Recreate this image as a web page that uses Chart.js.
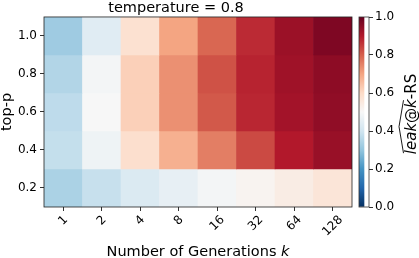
<!DOCTYPE html>
<html>
<head>
<meta charset="utf-8">
<script src="https://cdn.jsdelivr.net/npm/chart.js@4/dist/chart.umd.min.js"></script>
<style>
  html, body { margin: 0; padding: 0; background: #fff; }
  #wrap { position: relative; width: 419px; height: 258px; }
  #main { position: absolute; left: 0; top: 0; }
  #cbar { position: absolute; left: 352px; top: 0; }
</style>
</head>
<body>
<div id="wrap">
  <canvas id="main" width="419" height="258"></canvas>
  <canvas id="cbar" width="67" height="258"></canvas>
</div>
<script>
// ---- data ----
const xLabels = ['1', '2', '4', '8', '16', '32', '64', '128'];
const topP = [1.0, 0.8, 0.6, 0.4, 0.2];
const row_p10 = [0.32, 0.44, 0.58, 0.70, 0.79, 0.875, 0.93, 0.97];
const row_p08 = [0.35, 0.49, 0.62, 0.73, 0.82, 0.885, 0.925, 0.95];
const row_p06 = [0.37, 0.50, 0.62, 0.73, 0.81, 0.88, 0.92, 0.945];
const row_p04 = [0.38, 0.475, 0.585, 0.68, 0.757, 0.83, 0.90, 0.935];
const row_p02 = [0.34, 0.384, 0.426, 0.458, 0.49, 0.514, 0.539, 0.564];
const yTicks = [0.2, 0.4, 0.6, 0.8, 1.0];
const cbTicks = [0.0, 0.2, 0.4, 0.6, 0.8, 1.0];
const title = 'temperature = 0.8';
const xTitle = 'Number of Generations ';
const xTitleVar = 'k';
const yTitle = 'top-p';

// ---- RdBu_r colormap ----
const rdbuR = [
  [5,48,97],[33,102,172],[67,147,195],[146,197,222],[209,229,240],
  [247,247,247],[253,219,199],[244,165,130],[214,96,77],[178,24,43],[103,0,31]
];
function cmap(v) {
  v = Math.max(0, Math.min(1, v));
  const t = v * 10;
  const i = Math.min(9, Math.floor(t));
  const f = t - i;
  const a = rdbuR[i], b = rdbuR[i + 1];
  const c = a.map((x, k) => Math.round(x + (b[k] - x) * f));
  return `rgb(${c[0]},${c[1]},${c[2]})`;
}

Chart.defaults.font.family = "'DejaVu Sans', sans-serif";
Chart.defaults.color = '#000';
Chart.defaults.animation = false;

const rows = [row_p10, row_p08, row_p06, row_p04, row_p02];
const halfStep = 0.1;
const datasets = rows.map((vals, r) => ({
  label: 'top-p ' + topP[r].toFixed(1),
  data: vals.map(() => [topP[r] - halfStep, topP[r] + halfStep]),
  backgroundColor: vals.map(cmap),
  borderWidth: 0,
  barPercentage: 1,
  categoryPercentage: 1,
  grouped: false
}));

const tickColor = '#333';
const labelSize = 14.5;

const mainPlugin = {
  id: 'mainDecor',
  afterDatasetsDraw(chart) {
    const { ctx, chartArea: a } = chart;
    ctx.save();
    ctx.strokeStyle = '#222';
    ctx.lineWidth = 0.8;
    ctx.strokeRect(a.left, a.top, a.right - a.left, a.bottom - a.top);
    ctx.restore();
  },
  afterDraw(chart) {
    const { ctx, chartArea: a } = chart;
    const xs = chart.scales.x;
    ctx.save();
    ctx.fillStyle = '#000';
    // rotated x tick labels, centered under ticks (matplotlib style)
    ctx.font = "12px 'DejaVu Sans'";
    const h = 14;
    const y0 = a.bottom + 6;
    xLabels.forEach((lab, i) => {
      const x = xs.getPixelForTick(i);
      const w = ctx.measureText(lab).width;
      const cy = y0 + (w + h) * Math.SQRT1_2 / 2;
      ctx.save();
      ctx.translate(x, cy);
      ctx.rotate(-Math.PI / 4);
      ctx.textAlign = 'center';
      ctx.textBaseline = 'middle';
      ctx.fillText(lab, 0, 0);
      ctx.restore();
    });
    // x title with italic k
    const fN = `${labelSize}px 'DejaVu Sans'`, fI = `italic ${labelSize}px 'DejaVu Sans'`;
    ctx.font = fN; const w1 = ctx.measureText(xTitle).width;
    ctx.font = fI; const w2 = ctx.measureText(xTitleVar).width;
    const cx = (a.left + a.right) / 2;
    let sx = cx - (w1 + w2) / 2;
    ctx.textAlign = 'left';
    ctx.textBaseline = 'alphabetic';
    ctx.font = fN; ctx.fillText(xTitle, sx, 256);
    ctx.font = fI; ctx.fillText(xTitleVar, sx + w1, 256);
    // y title
    ctx.save();
    ctx.translate(10.5, (a.top + a.bottom) / 2);
    ctx.rotate(-Math.PI / 2);
    ctx.font = fN;
    ctx.textAlign = 'center';
    ctx.fillText(yTitle, 0, 0);
    ctx.restore();
    ctx.restore();
  }
};

new Chart(document.getElementById('main'), {
  type: 'bar',
  data: { labels: xLabels, datasets },
  options: {
    responsive: false,
    maintainAspectRatio: false,
    layout: { padding: { left: 0, right: 67, top: 0, bottom: 0 } },
    plugins: {
      legend: { display: false },
      tooltip: { enabled: false },
      title: {
        display: true,
        text: title,
        color: '#000',
        font: { size: labelSize, weight: 'normal', lineHeight: 1.17 },
        padding: { top: 0, bottom: 0 }
      }
    },
    scales: {
      x: {
        type: 'category',
        offset: true,
        ticks: { display: false },
        grid: { offset: false, drawOnChartArea: false, drawTicks: true, tickLength: 4, color: tickColor, lineWidth: 1 },
        border: { display: false },
        afterFit(s) { s.height = 51; }
      },
      y: {
        type: 'linear',
        min: 0.1,
        max: 1.1,
        afterBuildTicks(s) { s.ticks = yTicks.map(v => ({ value: v })); },
        ticks: { callback: v => Number(v).toFixed(1), font: { size: 12 }, color: '#000', padding: 3 },
        grid: { drawOnChartArea: false, drawTicks: true, tickLength: 4, color: tickColor, lineWidth: 1 },
        border: { display: false },
        afterFit(s) { s.width = 44; }
      }
    }
  },
  plugins: [mainPlugin]
});

// ---- colorbar ----
const cbPlugin = {
  id: 'cbDecor',
  afterDatasetsDraw(chart) {
    const { ctx, chartArea: a } = chart;
    ctx.save();
    ctx.strokeStyle = '#333';
    ctx.lineWidth = 0.8;
    ctx.strokeRect(a.left, a.top, a.right - a.left, a.bottom - a.top);
    ctx.restore();
  },
  afterDraw(chart) {
    const { ctx, chartArea: a } = chart;
    const segs = [['leak', 'italic'], ['@', 'normal'], ['k', 'italic'], ['-RS', 'normal']];
    const fs = 15;
    ctx.save();
    ctx.fillStyle = '#000';
    ctx.strokeStyle = '#000';
    const widths = segs.map(([t, st]) => { ctx.font = `${st} ${fs}px 'DejaVu Sans'`; return ctx.measureText(t).width; });
    const total = widths.reduce((p, q) => p + q, 0);
    ctx.translate(64, (a.top + a.bottom) / 2 + 2);
    ctx.rotate(-Math.PI / 2);
    ctx.textAlign = 'left';
    ctx.textBaseline = 'alphabetic';
    let x = -total / 2;
    const hatStart = x;
    let hatEnd = x;
    segs.forEach(([t, st], i) => {
      ctx.font = `${st} ${fs}px 'DejaVu Sans'`;
      ctx.fillText(t, x, 0);
      x += widths[i];
      if (i === 2) hatEnd = x;
    });
    ctx.lineWidth = 0.9;
    ctx.beginPath();
    ctx.moveTo(hatStart + 1, -12.5);
    ctx.lineTo((hatStart + hatEnd) / 2, -17);
    ctx.lineTo(hatEnd - 1, -12.5);
    ctx.stroke();
    ctx.restore();
  }
};

new Chart(document.getElementById('cbar'), {
  type: 'bar',
  data: {
    labels: ['cb'],
    datasets: [{
      data: [[cbTicks[0], cbTicks[cbTicks.length - 1]]],
      backgroundColor(c) {
        const chart = c.chart;
        if (!chart.chartArea) return null;
        const ys = chart.scales.y;
        const g = chart.ctx.createLinearGradient(0, ys.getPixelForValue(0), 0, ys.getPixelForValue(1));
        rdbuR.forEach((_, i) => g.addColorStop(i / 10, cmap(i / 10)));
        return g;
      },
      borderWidth: 0,
      barPercentage: 1,
      categoryPercentage: 1
    }]
  },
  options: {
    responsive: false,
    maintainAspectRatio: false,
    layout: { padding: { left: 7, right: 0, top: 17, bottom: 51 } },
    plugins: { legend: { display: false }, tooltip: { enabled: false } },
    scales: {
      x: { display: false, offset: false },
      y: {
        type: 'linear',
        position: 'right',
        min: 0,
        max: 1,
        afterBuildTicks(s) { s.ticks = cbTicks.map(v => ({ value: v })); },
        ticks: { callback: v => Number(v).toFixed(1), font: { size: 12 }, color: '#000', padding: 2 },
        grid: { drawOnChartArea: false, drawTicks: true, tickLength: 4, color: tickColor, lineWidth: 1 },
        border: { display: false },
        afterFit(s) { s.width = 50; }
      }
    }
  },
  plugins: [cbPlugin]
});
</script>
</body>
</html>
